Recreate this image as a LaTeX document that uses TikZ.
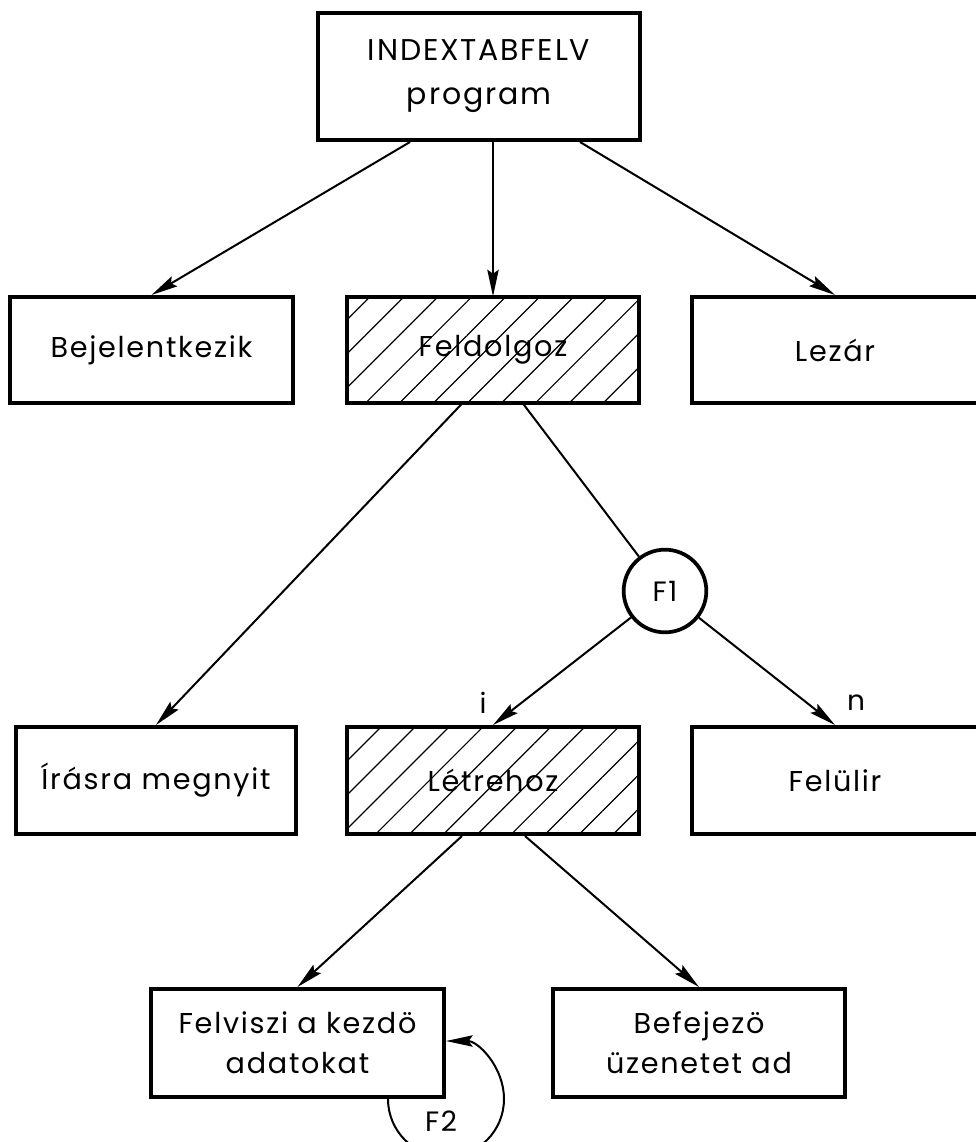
\documentclass[tikz,border=0pt]{standalone}
\usepackage{fontspec}
\setmainfont{Poppins}[LetterSpace=6]
\usetikzlibrary{arrows.meta,patterns.meta}
\tikzset{
  box/.style={draw,line width=3pt,minimum height=79.5pt,inner sep=0pt,align=center,font=\fontsize{21.5}{30}\selectfont},
  hatched/.style={pattern={Lines[angle=45,distance=18pt,line width=0.9pt]}},
  conn/.style={line width=1.5pt},
  arr/.style={conn,-{Stealth[length=20pt,width=8.5pt,inset=3pt]}},
  lbl/.style={inner sep=0.75pt,font=\fontsize{21}{22}\selectfont}
}
\begin{document}
\begin{tikzpicture}[x=0.75pt,y=0.75pt,yscale=-1,xscale=1]
    \useasboundingbox (0,0) rectangle (975,1142);
    % Boxes
    \node [box,minimum width=241.5pt,minimum height=95.25pt,font=\fontsize{22.5}{33}\selectfont] (prog) at (479,76.5) {INDEXTABFELV\\program};
    \node [box,minimum width=212.25pt] (bej) at (151.5,350) {Bejelentkezik};
    \node [box,hatched,minimum width=219pt] (feld) at (493,350) {Feldolgoz};
    \node [box,minimum width=214.5pt] (lez) at (835,350) {Lezár};
    \node [draw,circle,line width=2.8pt,minimum size=62pt,inner sep=0pt,font=\fontsize{21}{22}\selectfont] (f1) at (665,591) {F1};
    \node [box,minimum width=210pt,minimum height=80.25pt] (iras) at (156,780.5) {Írásra megnyit};
    \node [box,hatched,minimum width=219pt,minimum height=80.25pt] (letr) at (493,780.5) {Létrehoz};
    \node [box,minimum width=214.5pt,minimum height=80.25pt] (felul) at (835,780.5) {Felülir};
    \node [box,minimum width=219.75pt,minimum height=81pt] (felv) at (297.5,1043) {Felviszi a kezdö\\adatokat};
    \node [box,minimum width=219pt,minimum height=81pt] (bef) at (699,1043) {Befejezö\\üzenetet ad};
    % Connectors
    \draw [arr] ([xshift=-51.75pt]prog.south) -- (bej.north);
    \draw [arr] ([xshift=10.5pt]prog.south) -- (feld.north);
    \draw [arr] ([xshift=75.75pt]prog.south) -- (lez.north);
    \draw [arr] ([xshift=-23.25pt]feld.south) -- (iras.north);
    \draw [conn] ([xshift=22.5pt]feld.south) -- (f1);
    \draw [arr] (f1) -- (letr.north);
    \draw [arr] (f1) -- (felul.north);
    \draw [arr] ([xshift=-23.25pt]letr.south) -- (felv.north);
    \draw [arr] ([xshift=24pt]letr.south) -- (bef.north);
    \draw [arr] ([xshift=-43.5pt]felv.south east) arc [start angle=180,end angle=-90,radius=58];
    % Text Node
    \node [lbl] (ilbl) at (483,703) {i};
    % Text Node
    \node [lbl] (nlbl) at (856,703) {n};
    % Text Node
    \node [lbl] (f2lbl) at (441,1121) {F2};
\end{tikzpicture}
\end{document}
